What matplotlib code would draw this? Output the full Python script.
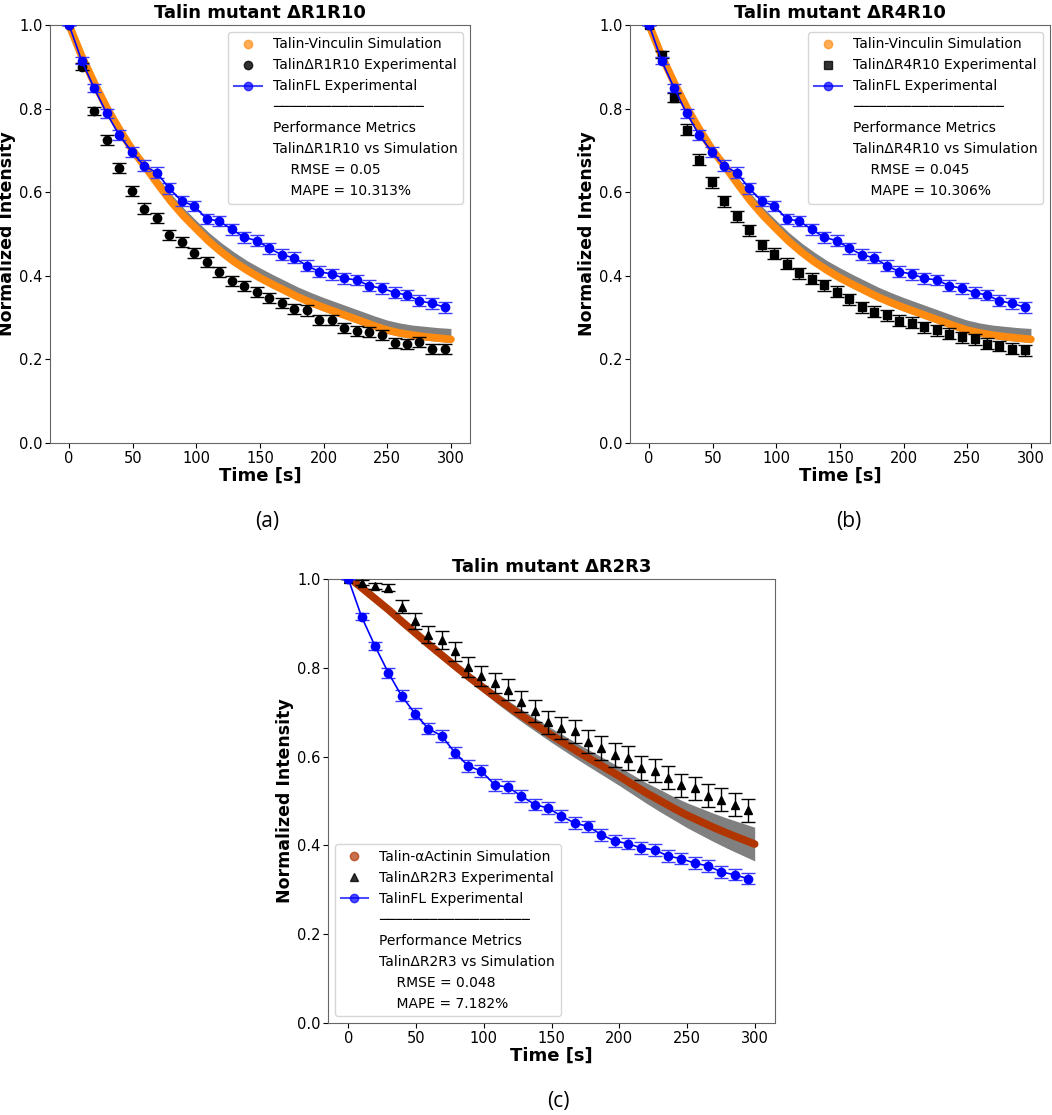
import numpy as np
import matplotlib
matplotlib.use('Agg')
import matplotlib.pyplot as plt
from matplotlib.lines import Line2D

# experimental time points [s]
exp_time = [0, 9.8, 19.7, 29.5, 39.3, 49.2, 59.0, 68.8, 78.7, 88.5, 98.3,
            108.2, 118.0, 127.8, 137.7, 147.5, 157.3, 167.2, 177.0, 186.8, 196.7,
            206.5, 216.3, 226.2, 236.0, 245.8, 255.7, 265.5, 275.3, 285.2, 295.0]

# TalinFL experimental (same in all panels)
fl_mean = [1.000, 0.915, 0.849, 0.789, 0.737, 0.697, 0.663, 0.647, 0.609, 0.579, 0.567,
           0.536, 0.531, 0.511, 0.492, 0.484, 0.466, 0.450, 0.443, 0.424, 0.410,
           0.404, 0.394, 0.390, 0.376, 0.370, 0.360, 0.354, 0.340, 0.334, 0.325]
fl_err = [0.000, 0.008, 0.010, 0.011, 0.012, 0.012, 0.013, 0.013, 0.013, 0.013, 0.013,
          0.013, 0.013, 0.013, 0.013, 0.013, 0.013, 0.013, 0.013, 0.013, 0.013,
          0.013, 0.013, 0.013, 0.013, 0.013, 0.013, 0.013, 0.013, 0.013, 0.013]

# mutants
r1r10_mean = [1.000, 0.900, 0.794, 0.725, 0.659, 0.604, 0.561, 0.539, 0.498, 0.482, 0.455,
              0.434, 0.410, 0.388, 0.376, 0.361, 0.348, 0.334, 0.320, 0.317, 0.294,
              0.294, 0.274, 0.268, 0.266, 0.258, 0.240, 0.238, 0.242, 0.226, 0.226]
r1r10_err = [0.000, 0.008, 0.010, 0.012, 0.012, 0.012, 0.012, 0.012, 0.012, 0.012, 0.012,
             0.012, 0.012, 0.012, 0.012, 0.012, 0.012, 0.012, 0.012, 0.012, 0.012,
             0.012, 0.012, 0.012, 0.012, 0.012, 0.012, 0.012, 0.012, 0.012, 0.012]

r4r10_mean = [1.000, 0.929, 0.826, 0.750, 0.678, 0.624, 0.578, 0.542, 0.509, 0.473, 0.453,
              0.429, 0.406, 0.393, 0.377, 0.362, 0.344, 0.325, 0.314, 0.306, 0.293,
              0.288, 0.277, 0.270, 0.261, 0.253, 0.248, 0.238, 0.232, 0.226, 0.222]
r4r10_err = [0.000, 0.009, 0.011, 0.012, 0.013, 0.013, 0.013, 0.013, 0.013, 0.013, 0.013,
             0.013, 0.013, 0.013, 0.013, 0.013, 0.013, 0.013, 0.013, 0.013, 0.013,
             0.013, 0.013, 0.013, 0.013, 0.013, 0.013, 0.013, 0.013, 0.013, 0.013]

r2r3_mean = [1.000, 0.992, 0.985, 0.980, 0.938, 0.905, 0.875, 0.863, 0.837, 0.802, 0.782,
             0.766, 0.751, 0.724, 0.702, 0.677, 0.664, 0.657, 0.634, 0.619, 0.604,
             0.597, 0.574, 0.568, 0.552, 0.535, 0.529, 0.512, 0.503, 0.492, 0.479]
r2r3_err = [0.000, 0.006, 0.007, 0.008, 0.015, 0.018, 0.020, 0.020, 0.021, 0.022, 0.022,
            0.023, 0.024, 0.024, 0.025, 0.025, 0.025, 0.026, 0.026, 0.027, 0.027,
            0.027, 0.027, 0.026, 0.026, 0.025, 0.026, 0.026, 0.026, 0.026, 0.026]

# Talin-Vinculin simulation (panels a, b)
tv_time = [0, 10, 20, 30, 40, 50, 60, 70, 80, 90, 100, 110, 120, 130, 140, 150,
           160, 170, 180, 190, 200, 210, 220, 230, 240, 250, 260, 270, 280, 290, 300]
tv_sim = [1.000, 0.925, 0.860, 0.800, 0.748, 0.700, 0.660, 0.618, 0.578, 0.543, 0.512,
          0.482, 0.456, 0.433, 0.413, 0.395, 0.379, 0.364, 0.349, 0.336, 0.324,
          0.313, 0.302, 0.291, 0.280, 0.270, 0.263, 0.258, 0.254, 0.251, 0.248]
tv_upper = [1.000, 0.929, 0.866, 0.808, 0.758, 0.712, 0.674, 0.634, 0.596, 0.562, 0.532,
            0.503, 0.478, 0.456, 0.436, 0.419, 0.403, 0.388, 0.373, 0.360, 0.348,
            0.337, 0.326, 0.315, 0.304, 0.294, 0.287, 0.282, 0.279, 0.276, 0.274]
tv_lower = [1.000, 0.922, 0.855, 0.794, 0.741, 0.693, 0.652, 0.610, 0.570, 0.535, 0.504,
            0.474, 0.448, 0.425, 0.405, 0.387, 0.371, 0.356, 0.341, 0.328, 0.316,
            0.305, 0.294, 0.283, 0.272, 0.262, 0.255, 0.250, 0.246, 0.243, 0.240]

# Talin-aActinin simulation (panel c)
ta_time = [5, 10, 20, 30, 40, 50, 60, 70, 80, 90, 100, 110, 120, 130, 140, 150,
           160, 170, 180, 190, 200, 210, 220, 230, 240, 250, 260, 270, 280, 290, 300]
ta_sim = [0.992, 0.980, 0.955, 0.930, 0.903, 0.877, 0.851, 0.826, 0.801, 0.777, 0.754,
          0.731, 0.709, 0.688, 0.668, 0.648, 0.629, 0.610, 0.592, 0.574, 0.556,
          0.537, 0.518, 0.501, 0.484, 0.468, 0.454, 0.440, 0.427, 0.415, 0.403]
ta_upper = [0.995, 0.984, 0.960, 0.936, 0.909, 0.884, 0.859, 0.835, 0.810, 0.787, 0.765,
            0.743, 0.722, 0.702, 0.683, 0.664, 0.646, 0.628, 0.611, 0.594, 0.577,
            0.559, 0.541, 0.526, 0.510, 0.496, 0.484, 0.472, 0.461, 0.451, 0.441]
ta_lower = [0.989, 0.976, 0.950, 0.924, 0.897, 0.870, 0.843, 0.817, 0.792, 0.767, 0.743,
            0.719, 0.696, 0.674, 0.653, 0.632, 0.612, 0.592, 0.573, 0.554, 0.535,
            0.515, 0.495, 0.476, 0.458, 0.440, 0.424, 0.408, 0.393, 0.379, 0.365]

W, H = 1052, 1115
fig = plt.figure(figsize=(W / 100, H / 100), dpi=100)


def make_ax(left, top, right, bottom):
    return fig.add_axes([left / W, 1 - bottom / H, (right - left) / W, (bottom - top) / H])


def panel(ax, title, sim_t, sim, lo, hi, sim_color, sim_label,
          mut, mut_err, mut_marker, mut_label, metric_name, rmse, mape, loc):
    ax.fill_between(sim_t, lo, hi, color='gray', lw=0, zorder=1)
    ax.plot(sim_t, sim, color=sim_color, lw=5.5, solid_capstyle='round', zorder=2)
    ax.errorbar(exp_time, mut, yerr=mut_err, fmt=mut_marker, color='black',
                ms=6, capsize=5, elinewidth=1, capthick=1, zorder=3)
    ax.errorbar(exp_time, fl_mean, yerr=fl_err, fmt='o-', color='blue', ecolor='#3b3bff',
                ms=6, lw=1.2, capsize=5, elinewidth=1, capthick=1, zorder=4)

    ax.set_ylim(0, 1)
    ax.set_xlim(-15, 315)
    ax.set_title(title, fontsize=13, fontweight='bold', pad=5)
    ax.set_xlabel('Time [s]', fontsize=13, fontweight='bold', labelpad=1)
    ax.set_ylabel('Normalized Intensity', fontsize=12.5, fontweight='bold', labelpad=2)
    ax.tick_params(labelsize=10.5, pad=2)
    for s in ax.spines.values():
        s.set_color('0.4')

    blank = Line2D([], [], ls='none')
    handles = [
        Line2D([], [], marker='o', ls='none', color=sim_color, alpha=0.7, ms=6),
        Line2D([], [], marker=mut_marker, ls='none', color='black', alpha=0.8, ms=6),
        Line2D([], [], marker='o', ls='-', color='blue', alpha=0.7, ms=6),
        blank, blank, blank, blank, blank,
    ]
    labels = [
        sim_label, mut_label, 'TalinFL Experimental',
        '\u2500' * 18,
        'Performance Metrics',
        metric_name + ' vs Simulation',
        '    RMSE = ' + rmse,
        '    MAPE = ' + mape,
    ]
    ax.legend(handles, labels, loc=loc, fontsize=10)


ax_a = make_ax(50, 25, 470, 443)
panel(ax_a, 'Talin mutant \u0394R1R10', tv_time, tv_sim, tv_lower, tv_upper, '#ff8a10',
      'Talin-Vinculin Simulation', r1r10_mean, r1r10_err, 'o',
      'Talin\u0394R1R10 Experimental', 'Talin\u0394R1R10', '0.05', '10.313%', 'upper right')

ax_b = make_ax(630, 25, 1050, 443)
panel(ax_b, 'Talin mutant \u0394R4R10', tv_time, tv_sim, tv_lower, tv_upper, '#ff8a10',
      'Talin-Vinculin Simulation', r4r10_mean, r4r10_err, 's',
      'Talin\u0394R4R10 Experimental', 'Talin\u0394R4R10', '0.045', '10.306%', 'upper right')

ax_c = make_ax(328, 579, 775, 1023)
panel(ax_c, 'Talin mutant \u0394R2R3', ta_time, ta_sim, ta_lower, ta_upper, '#b03500',
      'Talin-\u03b1Actinin Simulation', r2r3_mean, r2r3_err, '^',
      'Talin\u0394R2R3 Experimental', 'Talin\u0394R2R3', '0.048', '7.182%', 'lower left')

for lab, x, y in [('(a)', 267, 522), ('(b)', 849, 522), ('(c)', 558, 1102)]:
    fig.text(x / W, 1 - y / H, lab, ha='center', va='center', fontsize=15, family='Open Sans')

fig.savefig('out.png', dpi=100)
